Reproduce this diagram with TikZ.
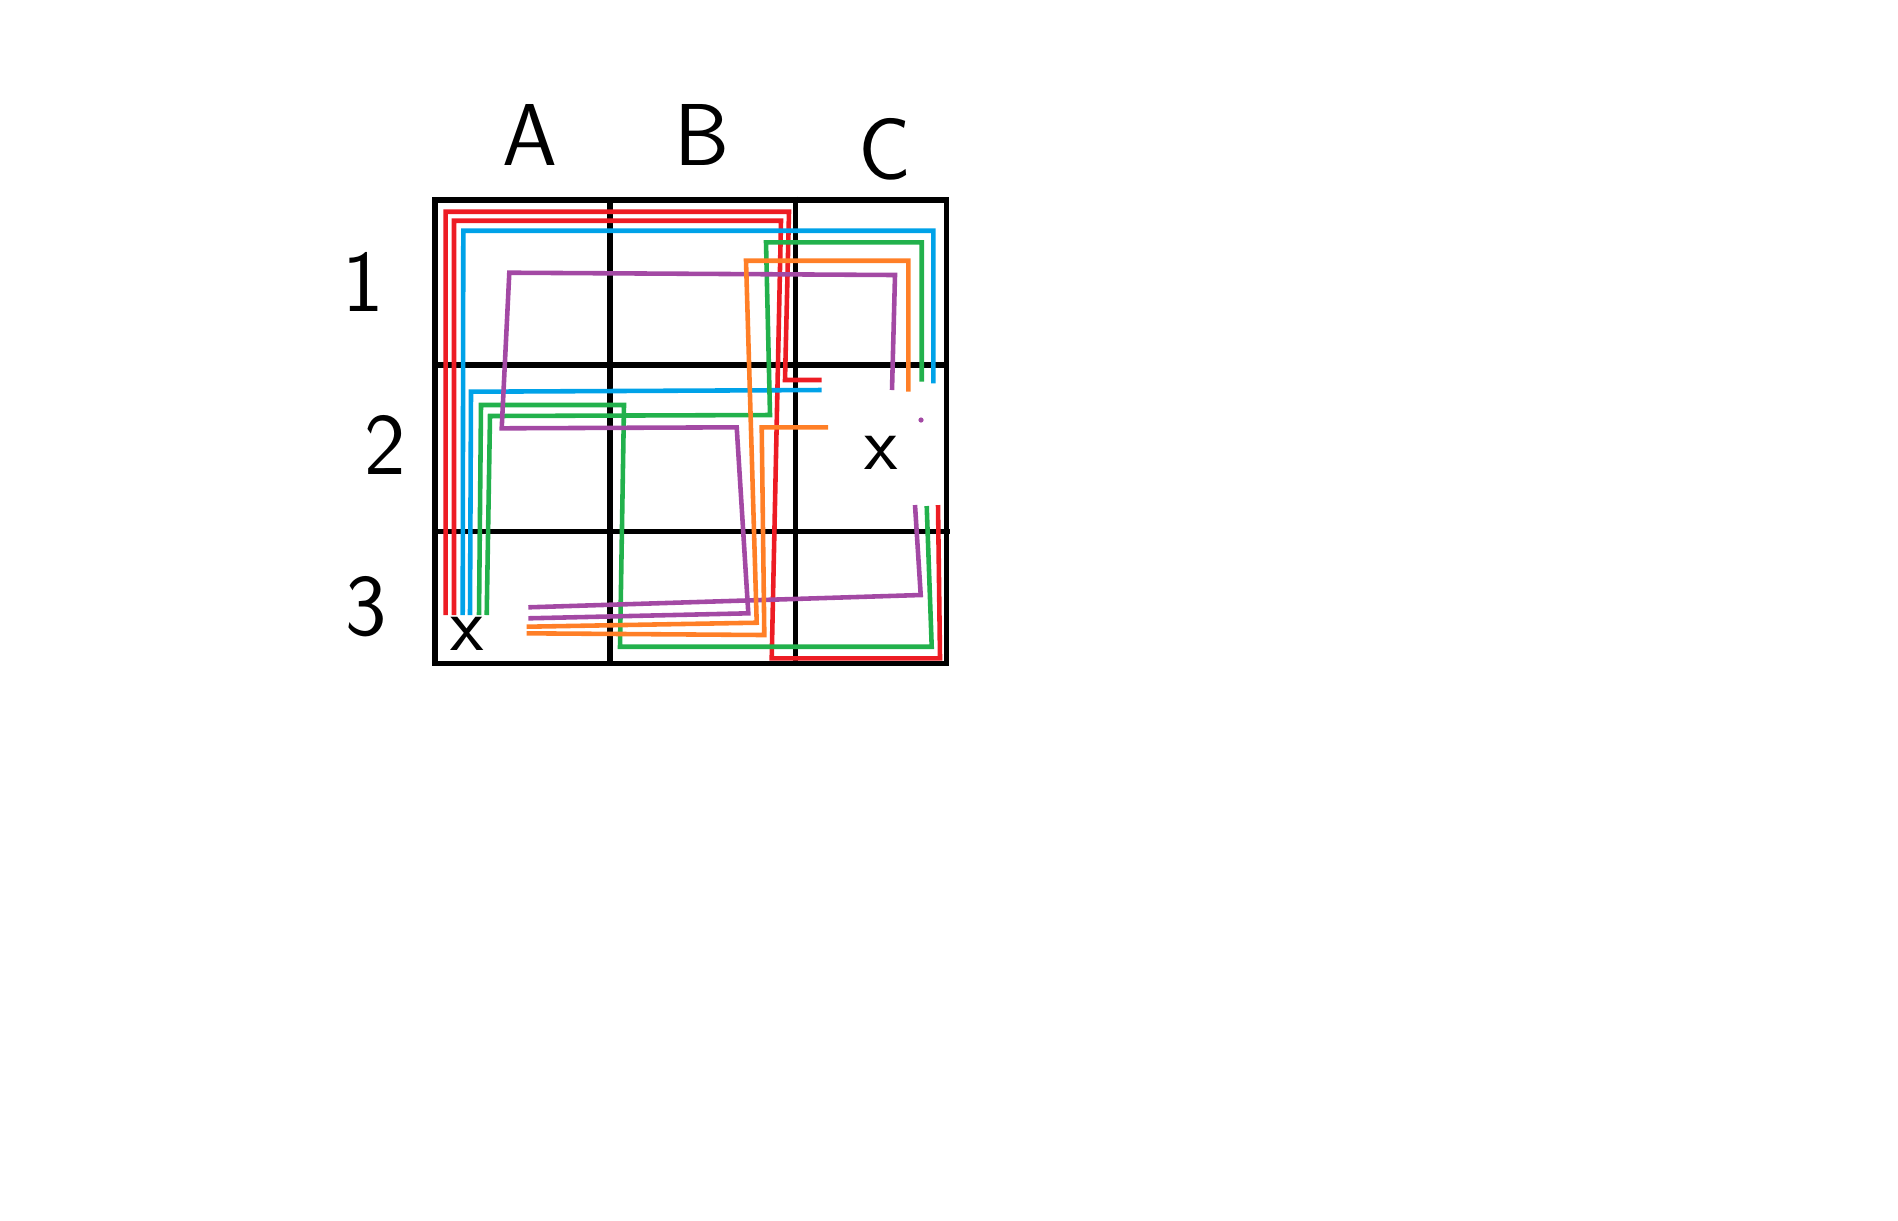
\documentclass[tikz,border=0pt]{standalone}
\usepackage{fontspec}
\definecolor{pred}{HTML}{ED1C24}
\definecolor{pblue}{HTML}{00A2E8}
\definecolor{pgreen}{HTML}{22B14C}
\definecolor{porange}{HTML}{FF7F27}
\definecolor{ppurple}{HTML}{A349A4}
\begin{document}
\begin{tikzpicture}[x=0.01cm,y=-0.01cm,
  gridline/.style={line width=1.45pt,black},
  route/.style={line width=1.3pt,line join=miter},
  lbl/.style={font=\sffamily\fontsize{25}{25}\selectfont},
  xmarker/.style={font=\sffamily\fontsize{22}{22}\selectfont}]
\useasboundingbox (0,0) rectangle (1898,1220);
% grid
\draw[gridline] (435,200) rectangle (946.7,663.3);
\draw[gridline] (610,200) -- (610,663.3);
\draw[gridline] (795.7,196.7) -- (795.7,663.3);
\draw[gridline] (435,365) -- (946.7,365);
\draw[gridline] (435,531.7) -- (950,531.7);
% labels
\node[lbl] (cA) at (530,135) {A};
\node[lbl] (cB) at (702,135) {B};
\node[lbl] (cC) at (885,149) {C};
\node[lbl] (r1) at (363,282) {1};
\node[lbl] (r2) at (385,445) {2};
\node[lbl] (r3) at (366,607) {3};
\node[xmarker] (xa) at (467,634) {x};
\node[xmarker] (xc) at (881,453) {x};
% routes
\draw[route,pred] (445.7,615) -- (445.7,211.7) -- (789,211.7) -- (785,380) -- (821.7,380);
\draw[route,pred] (454,615) -- (454,220.7) -- (781,220.7) -- (771.7,658.3) -- (940,658.3) -- (938,505);
\draw[route,pblue] (462.7,615) -- (463.3,230.7) -- (933.3,230.7) -- (933.3,383.3);
\draw[route,pblue] (470,615) -- (471,391.7) -- (821.7,390);
\draw[route,pgreen] (479,615) -- (481,405) -- (624,405) -- (620,646.7) -- (931.7,646.7) -- (926.7,506);
\draw[route,pgreen] (486.7,615) -- (490,416) -- (770,415) -- (766,242.3) -- (921.7,242.3) -- (921.7,381.7);
\draw[route,ppurple] (528.3,618.3) -- (748.3,613.3) -- (736.7,427.3) -- (501.7,428.3) -- (509.3,272.7) -- (895,275) -- (892,390);
\draw[route,ppurple] (528.3,607.3) -- (920.7,595) -- (915,505);
\draw[route,porange] (526.7,626.7) -- (756.7,622.7) -- (746,260.7) -- (908.3,260.7) -- (908.3,391.7);
\draw[route,porange] (526.7,633.3) -- (764.3,635) -- (761.7,427.3) -- (828,427.3);
\fill[ppurple] (921,420) circle (2.6);
\end{tikzpicture}
\end{document}
